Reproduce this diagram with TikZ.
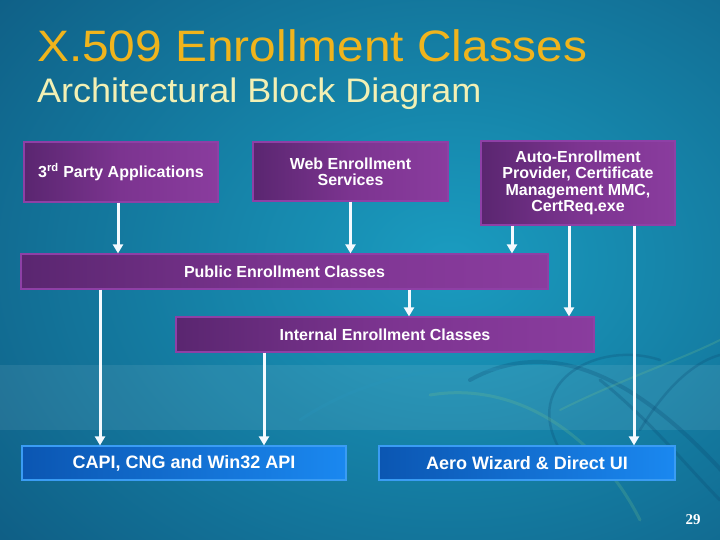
\documentclass[tikz,border=0pt]{standalone}
\usepackage{fontspec}
\setmainfont{Liberation Sans}
\newfontfamily\numfont{Liberation Serif}
\usetikzlibrary{arrows.meta,calc}
\definecolor{bgdark}{HTML}{0B4870}
\definecolor{bglight}{HTML}{1A9CC0}
\definecolor{titlegold}{HTML}{F0B41C}
\definecolor{subyellow}{HTML}{F2F0B4}
\definecolor{pdark}{HTML}{5A2670}
\definecolor{pmid}{HTML}{7C3490}
\definecolor{plight}{HTML}{8A3C9E}
\definecolor{pborder}{HTML}{8E40A6}
\definecolor{bdark}{HTML}{0B56B2}
\definecolor{blight}{HTML}{1A88F0}
\definecolor{bborder}{HTML}{3A9CF4}
\definecolor{arrowwhite}{HTML}{F4FAFF}
\definecolor{swgreen}{HTML}{6EBE8C}
\definecolor{swblue}{HTML}{2896BE}
\tikzset{
  pbox/.style={draw=pborder, line width=1.2pt, left color=pdark, right color=plight, middle color=pmid,
    text=white, font=\fontsize{16}{16.3}\selectfont\bfseries, align=center, inner sep=0pt},
  pwide/.style={draw=pborder, line width=1.2pt, left color=pdark, right color=plight, middle color=pmid,
    text=white, font=\fontsize{16}{16.3}\selectfont\bfseries, inner sep=0pt},
  bbox/.style={draw=bborder, line width=1.2pt, left color=bdark, right color=blight,
    text=white, font=\fontsize{18}{20}\selectfont\bfseries, inner sep=0pt},
  arr/.style={draw=arrowwhite, line width=3pt, -{Triangle[width=10pt,length=9pt]}},
  swirl/.style={line cap=round, opacity=0.25}
}
\begin{document}
\begin{tikzpicture}[x=1pt,y=-1pt]
\useasboundingbox (0,0) rectangle (720,540);
% background
\begin{scope}
  \clip (0,0) rectangle (720,540);
  \shade[inner color=bglight, outer color=bgdark] (-350,-340) rectangle (1250,860);
  \fill[white, opacity=0.08] (0,365) rectangle (720,430);
  % decorative swirls
  \draw[swirl, draw=bgdark, line width=4pt] (470,380) .. controls (560,330) and (650,390) .. (730,480);
  \draw[swirl, draw=bgdark, line width=2.5pt] (560,450) .. controls (520,380) and (600,340) .. (660,360);
  \draw[swirl, draw=bgdark, line width=3pt] (600,380) .. controls (650,420) and (690,470) .. (720,500);
  \draw[swirl, draw=swgreen, line width=3pt] (430,395) .. controls (520,380) and (600,440) .. (640,520);
  \draw[swirl, draw=swgreen, line width=2pt] (560,410) .. controls (620,380) and (680,360) .. (720,340);
  \draw[swirl, draw=swblue, line width=3pt] (300,420) .. controls (360,380) and (430,365) .. (500,370);
  \draw[swirl, draw=bgdark, line width=2.5pt] (640,430) .. controls (670,380) and (700,360) .. (720,355);
\end{scope}
% titles
\node[anchor=base west, inner sep=0pt, text=titlegold, font=\fontsize{44}{48}\selectfont] (title) at (37,62)
  {\scalebox{1.087}[1]{X.509 Enrollment Classes}};
\node[anchor=base west, inner sep=0pt, text=subyellow, font=\fontsize{34}{38}\selectfont] (subtitle) at (37,103)
  {\scalebox{1.059}[1]{Architectural Block Diagram}};
% boxes
\node[pbox, minimum width=194pt, minimum height=60pt] (third) at (121,172)
  {3\textsuperscript{rd} Party Applications};
\node[pbox, minimum width=195pt, minimum height=59pt] (web) at (350.5,171.5)
  {Web Enrollment\\Services};
\node[pbox, minimum width=194pt, minimum height=84pt] (auto) at (578,183)
  {Auto-Enrollment\\Provider, Certificate\\Management MMC,\\CertReq.exe};
\node[pwide, minimum width=527pt, minimum height=35pt] (pub) at (284.5,271.5)
  {Public Enrollment Classes};
\node[pwide, minimum width=418pt, minimum height=35pt] (int) at (385,334.5)
  {Internal Enrollment Classes};
\node[bbox, minimum width=324pt, minimum height=34pt] (capi) at (184,463)
  {CAPI, CNG and Win32 API};
\node[bbox, minimum width=296pt, minimum height=34pt] (aero) at (527,463)
  {Aero Wizard \& Direct UI};
% arrows
\draw[arr] ([xshift=-3pt]third.south) -- ([xshift=-3pt]third.south |- pub.north);
\draw[arr] (web.south) -- (web.south |- pub.north);
\draw[arr] ([xshift=-66pt]auto.south) -- ([xshift=-66pt]auto.south |- pub.north);
\draw[arr] ([xshift=-9pt]auto.south) -- ([xshift=-9pt]auto.south |- int.north);
\draw[arr] ([xshift=56pt]auto.south) -- ([xshift=56pt]auto.south |- aero.north);
\draw[arr] ([xshift=124.5pt]pub.south) -- ([xshift=124.5pt]pub.south |- int.north);
\draw[arr] ([xshift=-184.5pt]pub.south) -- ([xshift=-184.5pt]pub.south |- capi.north);
\draw[arr] ([xshift=-121pt]int.south) -- ([xshift=-121pt]int.south |- capi.north);
% page number
\node[text=white, font=\numfont\fontsize{15}{16}\selectfont\bfseries, inner sep=0pt] (pagenum) at (693,520) {29};
\end{tikzpicture}
\end{document}
